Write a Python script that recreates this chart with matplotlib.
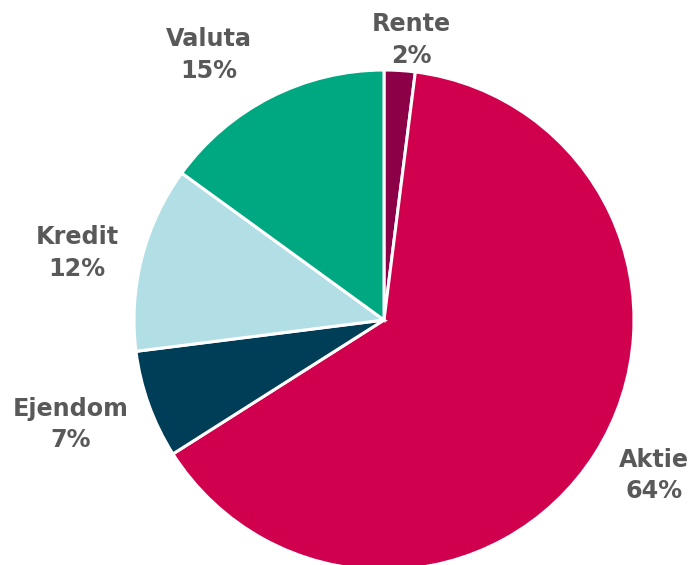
import numpy as np
import matplotlib
matplotlib.use("Agg")
import matplotlib.pyplot as plt

labels = ["Rente", "Aktie", "Ejendom", "Kredit", "Valuta"]
values = [2, 64, 7, 12, 15]
colors = ["#8c0047", "#d0004f", "#003d57", "#b1dfe5", "#00a882"]

# label placement: radius factor and angular nudge (deg, clockwise)
label_dist = [1.125, 1.245, 1.32, 1.257, 1.27]
label_shift = [1.9, -2.5, 1.3, -2.1, -6.4]

fig = plt.figure(figsize=(6.91, 5.65), dpi=100)
ax = fig.add_axes([0, 0, 1, 1])

wedges, _ = ax.pie(values, colors=colors, startangle=90, counterclock=False,
                   wedgeprops=dict(edgecolor="white", linewidth=2.2))

for w, lab, v, d, s in zip(wedges, labels, values, label_dist, label_shift):
    ang = np.deg2rad((w.theta1 + w.theta2) / 2 - s)
    ax.text(d * np.cos(ang), d * np.sin(ang), f"{lab}\n{v}%",
            ha="center", va="center", multialignment="center",
            fontsize=17.2, fontweight="bold", color="#595959", linespacing=1.38)

# place the pie: center at (384, 320) px, radius 250 px
r = 250
ax.set_xlim(-384 / r, (691 - 384) / r)
ax.set_ylim(-(565 - 320) / r, 320 / r)
ax.set_aspect("equal")
ax.axis("off")

fig.savefig("out.png", dpi=100)
